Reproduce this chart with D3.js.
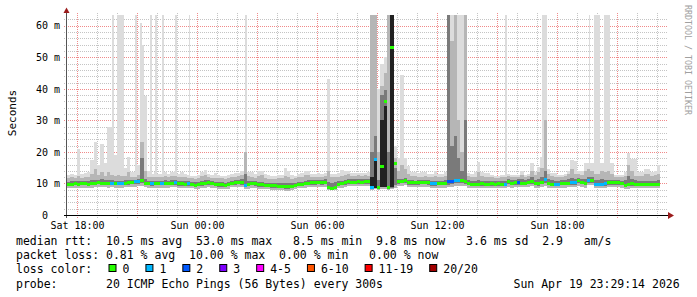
<!DOCTYPE html>
<html><head><meta charset="utf-8">
<script src="https://cdn.jsdelivr.net/npm/d3@7"></script>
<style>
html,body{margin:0;padding:0;background:#fff;}
svg{display:block;}
text{font-family:"DejaVu Sans Mono",monospace;white-space:pre;}
</style></head><body>
<svg id="chart" width="697" height="297"></svg>
<script>
// ---------- data (10-minute steps from Sat 17:30) ----------
const startTime = new Date(2026, 3, 18, 17, 30);
const endTime = new Date(2026, 3, 19, 23, 30);
const stepMinutes = 10;

const median = [
 9.8,9.8,9.9,9.8,9.9,9.9,9.8,9.9,10.0,10.3,10.1,10.0,10.0,10.1,10.0,10.0,9.9,10.1,
 10.3,10.4,10.5,10.6,11.0,10.1,10.0,9.9,10.0,10.0,10.0,10.0,10.0,10.1,10.2,9.9,9.9,9.8,
 9.9,9.7,9.5,9.6,9.9,10.0,10.2,10.0,9.8,9.6,9.6,9.5,9.7,10.1,10.2,10.3,10.2,9.5,
 9.7,10.0,9.9,9.6,9.6,9.5,9.5,9.3,9.2,9.1,9.1,9.0,9.0,9.1,9.4,9.8,9.8,10.0,
 10.1,10.2,10.2,10.3,10.2,10.3,8.6,8.5,8.6,9.8,10.0,10.2,10.5,10.4,10.4,10.5,10.4,10.5,
 10.5,8.8,17.5,8.8,15.5,36.0,8.8,53.0,16.4,10.6,10.7,11.0,10.3,10.3,10.2,10.3,10.4,10.4,
 10.3,9.9,9.9,10.0,10.0,10.0,10.5,10.5,10.9,10.9,10.8,10.6,10.0,9.8,9.8,9.8,9.9,9.8,
 9.8,9.9,9.8,9.9,9.8,9.8,10.5,10.0,10.2,10.2,10.1,10.1,10.4,10.6,10.0,9.9,10.3,11.2,
 10.0,9.8,9.8,9.8,10.0,10.0,10.1,10.2,10.2,10.8,10.3,10.0,10.9,11.0,9.8,9.8,9.8,9.9,
 10.3,10.3,10.3,10.2,10.0,9.5,9.7,9.9,9.8,9.8,9.8,9.8,9.8,9.8,9.8,9.8,null,null
];
const loss = [
 0,0,0,0,0,0,0,0,0,0,0,0,0,1,0,1,1,0,
 0,0,1,1,0,0,0,1,0,0,1,0,0,0,1,0,0,0,
 1,0,0,0,0,0,0,0,0,0,0,0,0,0,0,0,0,1,
 0,0,0,0,0,0,0,0,0,0,0,0,0,0,0,0,0,0,
 0,0,0,0,0,0,0,0,0,0,0,0,0,0,0,0,0,0,
 0,1,1,0,0,0,0,0,0,0,0,0,0,0,0,0,0,0,
 0,1,1,0,0,0,2,2,1,1,0,0,0,0,0,0,0,0,
 0,0,0,0,0,1,0,0,0,2,0,0,0,0,0,0,0,1,
 0,0,1,1,0,0,0,1,1,0,0,0,1,0,1,1,1,1,
 0,0,0,0,0,0,0,0,0,0,0,0,0,0,0,0,0,0
];
const smokeMin = [
 8.7,8.6,8.7,8.6,8.7,8.7,8.6,8.7,8.8,8.9,8.8,8.8,8.7,8.8,8.7,8.6,8.6,8.8,
 8.9,9.0,9.0,9.1,9.2,8.8,8.7,8.6,8.7,8.7,8.7,8.7,8.7,8.8,8.8,8.6,8.6,8.5,
 8.6,8.5,8.3,8.4,8.6,8.7,8.8,8.7,8.5,8.3,8.3,8.2,8.4,8.8,8.9,9.0,8.9,8.3,
 8.4,8.7,8.6,8.3,8.3,8.2,8.2,8.0,7.9,7.8,7.8,7.7,7.7,7.8,8.1,8.5,8.5,8.7,
 8.8,8.9,8.9,9.0,8.9,9.0,8.0,7.9,8.0,8.5,8.7,8.9,9.2,9.1,9.1,9.2,9.1,9.2,
 9.1,8.0,8.1,8.0,8.2,8.3,8.0,8.2,8.7,9.2,9.3,9.5,8.9,8.9,8.8,8.9,9.0,9.0,
 8.9,8.6,8.6,8.7,8.7,8.7,8.9,8.9,9.2,9.2,9.2,9.1,8.7,8.5,8.5,8.5,8.6,8.5,
 8.5,8.6,8.5,8.6,8.5,8.5,9.0,8.7,8.9,8.9,8.8,8.8,9.0,9.1,8.7,8.6,8.9,9.2,
 8.7,8.5,8.5,8.5,8.7,8.7,8.8,8.9,8.9,9.3,8.9,8.7,9.4,9.5,8.5,8.5,8.5,8.6,
 8.9,8.9,8.9,8.8,8.7,8.2,8.4,8.6,8.5,8.5,8.5,8.5,8.5,8.5,8.5,8.5,null,null
];
const smokeLow = [
 9.3,9.3,9.4,9.3,9.4,9.4,9.3,9.4,9.5,9.7,9.5,9.5,9.5,9.5,9.4,9.4,9.4,9.6,
 9.6,9.7,9.8,9.9,10.0,9.5,9.4,9.3,9.4,9.4,9.4,9.4,9.4,9.5,9.5,9.3,9.3,9.2,
 9.3,9.1,9.0,9.1,9.3,9.4,9.6,9.4,9.2,9.0,9.0,8.9,9.1,9.5,9.6,9.7,9.6,9.0,
 9.1,9.4,9.3,9.0,9.0,8.9,8.9,8.7,8.6,8.5,8.5,8.4,8.4,8.5,8.8,9.2,9.2,9.4,
 9.5,9.6,9.6,9.7,9.6,9.7,8.4,8.3,8.4,9.2,9.4,9.6,9.9,9.8,9.8,9.9,9.8,9.9,
 9.8,8.4,8.6,8.4,8.8,8.9,8.4,8.6,9.5,9.9,10.0,10.2,9.6,9.6,9.5,9.6,9.7,9.7,
 9.6,9.3,9.3,9.4,9.4,9.4,9.6,9.7,10.0,10.0,10.0,9.9,9.4,9.2,9.2,9.2,9.3,9.2,
 9.2,9.3,9.2,9.3,9.2,9.2,9.8,9.4,9.6,9.6,9.5,9.5,9.8,9.9,9.4,9.3,9.7,10.2,
 9.4,9.2,9.2,9.2,9.4,9.4,9.5,9.6,9.6,10.1,9.7,9.4,10.2,10.3,9.2,9.2,9.2,9.3,
 9.6,9.6,9.6,9.5,9.4,8.9,9.1,9.3,9.2,9.2,9.2,9.2,9.2,9.2,9.2,9.2,null,null
];
const smokeHigh = [
 10.6,10.7,10.8,10.7,10.8,10.8,10.9,11.0,11.2,11.0,11.3,11.0,11.1,11.0,10.9,10.9,10.8,11.0,
 11.0,11.1,11.2,11.4,18.0,11.5,10.9,10.8,10.9,10.9,10.9,11.0,10.9,11.0,11.2,10.8,10.8,10.7,
 10.7,10.5,10.4,10.5,10.8,11.0,11.0,10.8,10.6,10.4,10.4,10.3,10.6,10.9,11.0,11.1,11.4,13.0,
 10.8,10.9,10.7,10.4,10.4,10.3,10.3,10.2,10.1,10.0,10.0,10.2,10.0,10.0,10.3,10.6,10.6,10.9,
 11.0,11.0,11.0,11.1,11.0,11.4,10.5,10.3,10.5,10.8,10.9,11.2,11.4,11.3,11.3,11.4,11.3,11.4,
 11.3,20.0,25.0,11.0,38.0,39.7,20.0,64,15.0,11.5,11.5,11.8,11.0,11.0,10.9,11.0,11.1,11.1,
 11.0,10.7,10.7,10.8,10.8,11.0,64,22.0,25.0,18.0,14.0,30.0,11.2,10.8,10.8,11.0,10.9,10.8,
 10.8,10.9,10.8,10.9,10.8,10.9,11.4,11.0,11.2,11.3,11.5,11.2,11.5,12.0,11.2,11.5,12.0,14.0,
 11.5,11.0,10.9,10.9,11.0,11.1,11.4,11.8,11.5,11.8,11.3,11.5,12.0,12.0,11.2,11.0,11.3,11.2,
 11.2,11.2,11.0,11.0,10.9,11.0,12.5,11.5,11.0,10.8,10.8,10.9,10.9,10.8,10.8,11.0,null,null
];
const smokeMid = [
 11.7,12.0,11.6,12.5,11.8,12.0,12.2,13.0,14.5,12.6,13.5,12.5,13.5,12.6,12.5,12.8,12.3,12.4,
 13.5,12.2,12.2,12.8,23.0,14.0,12.0,12.0,12.2,12.0,12.0,12.5,12.2,12.3,12.5,12.0,12.2,12.0,
 11.8,11.6,11.5,11.7,12.3,12.8,12.2,11.8,11.8,11.6,11.6,11.5,11.8,12.0,12.0,12.3,12.6,20.0,
 12.5,12.0,11.8,12.4,12.6,11.8,11.5,11.5,11.4,11.6,11.6,12.5,12.2,11.5,11.6,12.0,12.0,12.6,
 12.8,12.0,12.0,12.2,12.0,12.5,14.0,12.0,12.0,12.2,12.5,12.8,13.0,12.5,12.4,12.6,12.5,12.6,
 12.5,64,64,20.0,41.0,45.0,64,64,18.0,14.0,16.0,14.5,13.0,12.3,12.3,12.0,12.2,12.4,
 12.0,12.0,12.5,12.0,12.0,12.3,64,55,64,30,20,64,12.4,12.0,12.2,13.5,12.3,12.2,
 12.2,12.0,11.8,11.8,11.9,12.0,12.5,12.0,12.0,12.2,12.8,12.2,12.5,14.0,12.8,13.5,15.0,30.0,
 13.0,12.4,12.2,12.0,12.2,12.4,13.0,14.5,13.0,13.0,12.8,14.0,14.5,14.0,13.0,13.0,14.0,13.5,
 14.0,13.0,12.2,12.2,12.0,12.5,16.0,14.0,12.5,12.3,12.3,13.0,13.0,12.4,12.6,13.0,null,null
];
const smokeMax = [
 12.7,13.0,12.6,20.8,13.0,13.2,13.5,17.5,23.0,16.0,22.5,16.5,28.0,28.0,19.0,64,64,15.0,
 18.5,13.5,13.5,16.0,54.0,37.6,14.0,13.0,13.5,13.0,13.0,13.5,13.0,13.5,14.0,13.0,13.5,13.0,
 12.8,12.5,12.4,12.8,13.5,14.3,13.0,12.6,13.2,12.6,12.5,12.4,12.8,13.0,13.2,13.4,14.0,20.0,
 13.6,13.5,13.0,13.8,14.0,13.0,12.6,12.5,12.4,12.8,12.8,14.8,14.0,12.6,12.5,13.0,13.2,14.1,
 14.1,13.0,13.0,13.2,13.0,13.3,43.0,13.0,13.0,13.3,14.2,14.0,14.1,13.4,13.3,13.4,13.3,13.4,
 13.5,64,64,40.0,48.0,50.0,64,64,22.0,18.0,44.4,18.0,15.5,13.5,13.5,13.2,13.5,13.5,
 13.0,13.0,14.0,13.0,13.0,13.5,64,64,64,64,64,64,13.2,13.0,13.5,16.9,13.5,13.2,
 13.2,12.6,12.5,12.5,12.6,12.8,13.0,12.6,12.8,12.8,13.8,12.8,13.0,16.4,13.5,15.3,18.4,64,
 14.5,13.2,13.2,12.8,12.8,13.0,14.1,17.5,17.0,14.1,14.1,16.6,16.6,16.6,64,64,16.6,64,
 64,16.6,12.8,12.8,12.8,13.5,19.8,17.6,17.6,13.5,13.5,14.6,14.6,13.5,14.0,16.0,null,null
];
// densest smoke: [step, low ms, high ms]
const blackSmoke = [[91,8.6,12.0],[92,8.6,17.5],[94,9.0,30.0],[95,9.0,34.4],[97,8.8,64]];
// single 5-minute samples with a high max ping: [minutes after start, max ms]
const singleSpikes = [[135,64],[205,64],[220,61],[250,64],[265,64],[285,64],[325,64],[365,64],[535,64],[1315,64],[1425,64],[1565,64]];

const yTicks = [0,10,20,30,40,50,60];
const yTickLabels = ["0","10 m","20 m","30 m","40 m","50 m","60 m"];
const xTickTimes = [new Date(2026,3,18,18,0),new Date(2026,3,19,0,0),new Date(2026,3,19,6,0),new Date(2026,3,19,12,0),new Date(2026,3,19,18,0)];
const xTickLabels = ["Sat 18:00","Sun 00:00","Sun 06:00","Sun 12:00","Sun 18:00"];
const lossClasses = ["0","1","2","3","4-5","6-10","11-19","20/20"];
const lossColors = ["#26ff00","#00b8ff","#0059ff","#7e00ff","#ff00ff","#ff5500","#ff0000","#a10000"];
const legendLines = [
 "median rtt:  10.5 ms avg  53.0 ms max   8.5 ms min  9.8 ms now   3.6 ms sd  2.9   am/s",
 "packet loss: 0.81 % avg  10.00 % max  0.00 % min   0.00 % now"
];
const probeText = "probe:       20 ICMP Echo Pings (56 Bytes) every 300s";
const stampText = "Sun Apr 19 23:29:14 2026";

// ---------- drawing ----------
const svg = d3.select("#chart");
const X0 = 67, X1 = 667, YB = 215, YT = 15;
const x = d3.scaleTime().domain([startTime, endTime]).range([X0, X1]);
const y = d3.scaleLinear().domain([0, 63.4]).range([YB, YT]).clamp(true);

function lossClass(n){ if(n<=3) return n; if(n<=5) return 4; if(n<=10) return 5; if(n<=19) return 6; return 7; }

const steps = median.map((m,i)=>({
  i, m, loss: loss[i],
  x0: Math.round(x(d3.timeMinute.offset(startTime, i*stepMinutes))),
  x1: Math.round(x(d3.timeMinute.offset(startTime, (i+1)*stepMinutes))),
  min: smokeMin[i], low: smokeLow[i], high: smokeHigh[i], mid: smokeMid[i], max: smokeMax[i]
})).filter(d => d.m != null);

// grid
const grid = svg.append("g");
const minorY = d3.range(2, 63, 2).filter(v => v % 10 !== 0);
grid.selectAll(".hmin").data(minorY).join("line")
  .attr("x1", 64).attr("x2", 668)
  .attr("y1", d => Math.round(y(d)) + 0.5).attr("y2", d => Math.round(y(d)) + 0.5)
  .attr("stroke", "#c4c4c4").attr("stroke-dasharray", "1,1");
const hours = d3.timeHour.range(d3.timeMinute.offset(startTime, 1), endTime);
grid.selectAll(".vmin").data(hours.filter(h => h.getHours() % 3 !== 0)).join("line")
  .attr("y1", 13).attr("y2", 218)
  .attr("x1", d => Math.round(x(d)) + 0.5).attr("x2", d => Math.round(x(d)) + 0.5)
  .attr("stroke", "#c4c4c4").attr("stroke-dasharray", "1,1");
grid.selectAll(".vmaj").data(hours.filter(h => h.getHours() % 3 === 0)).join("line")
  .attr("y1", 13).attr("y2", 218)
  .attr("x1", d => Math.round(x(d)) + 0.5).attr("x2", d => Math.round(x(d)) + 0.5)
  .attr("stroke", "#f08a8a").attr("stroke-dasharray", "1,1");
grid.selectAll(".hmaj").data(yTicks.filter(v => v > 0)).join("line")
  .attr("x1", 64).attr("x2", 668)
  .attr("y1", d => Math.round(y(d)) + 0.5).attr("y2", d => Math.round(y(d)) + 0.5)
  .attr("stroke", "#f08a8a").attr("stroke-dasharray", "1,1");

// smoke
const smoke = svg.append("g").attr("shape-rendering", "crispEdges");
function band(data, lo, hi, color){
  smoke.append("g").selectAll("rect").data(data).join("rect")
    .attr("x", d => d.x0).attr("width", d => d.x1 - d.x0)
    .attr("y", d => y(hi(d))).attr("height", d => Math.max(0, y(lo(d)) - y(hi(d))))
    .attr("fill", color);
}
band(steps, d => d.min, d => d.max, "#dcdcdc");
const spikeData = singleSpikes.map(([mn, v]) => ({
  x0: Math.round(x(d3.timeMinute.offset(startTime, mn))),
  x1: Math.max(Math.round(x(d3.timeMinute.offset(startTime, mn + 5))), Math.round(x(d3.timeMinute.offset(startTime, mn))) + 1),
  lo: smokeMin[Math.floor(mn / stepMinutes)], hi: v
}));
band(spikeData, d => d.lo, d => d.hi, "#dcdcdc");
band(steps, d => d.min, d => d.mid, "#b6b6b6");
band(steps, d => d.low, d => d.high, "#7a7a7a");
const blackData = blackSmoke.map(([i, lo, hi]) => ({ x0: steps[i].x0, x1: steps[i].x1, lo, hi }));
band(blackData, d => d.lo, d => d.hi, "#222222");

// median coloured by loss
svg.append("g").attr("shape-rendering", "crispEdges").selectAll("rect").data(steps).join("rect")
  .attr("x", d => d.x0).attr("width", d => d.x1 - d.x0)
  .attr("y", d => Math.round(y(d.m) - 1.5)).attr("height", 3)
  .attr("fill", d => lossColors[lossClass(d.loss)]);

// axes
const yAxis = d3.axisLeft(y).tickValues(yTicks).tickSize(0).tickPadding(7)
  .tickFormat((d, i) => yTickLabels[i].length < 4 ? yTickLabels[i].padEnd(3) : yTickLabels[i]);
const gy = svg.append("g").attr("transform", `translate(${X0},0)`).call(yAxis);
gy.select(".domain").remove();
gy.selectAll("text").attr("font-family", "DejaVu Sans Mono").attr("font-size", 10).attr("fill", "#000");

const xAxis = d3.axisBottom(x).tickValues(xTickTimes).tickSize(0).tickPadding(7)
  .tickFormat((d, i) => xTickLabels[i]);
const gx = svg.append("g").attr("transform", `translate(0,${YB})`).call(xAxis);
gx.select(".domain").remove();
gx.selectAll("text").attr("font-family", "DejaVu Sans Mono").attr("font-size", 10).attr("fill", "#000");

svg.append("line").attr("x1", 66.5).attr("x2", 66.5).attr("y1", 12).attr("y2", 218).attr("stroke", "#555");
svg.append("line").attr("x1", 64).attr("x2", 669).attr("y1", 215.5).attr("y2", 215.5).attr("stroke", "#000");
svg.append("polygon").attr("points", "63.5,13 69.5,13 66.5,7.5").attr("fill", "#9b1c1c");
svg.append("polygon").attr("points", "668,212 668,219 674,215.5").attr("fill", "#9b1c1c");

svg.append("text").attr("transform", "translate(15.5,113) rotate(-90)")
  .attr("text-anchor", "middle").attr("font-size", 11).attr("fill", "#000").text("Seconds");
svg.append("text").attr("transform", "translate(685,5) rotate(90)")
  .attr("font-size", 8.3).attr("fill", "#a0a0a0").text("RRDTOOL / TOBI OETIKER");

// legend
const lg = svg.append("g").attr("font-size", 11.5).attr("fill", "#000");
lg.append("text").attr("x", 16).attr("y", 245).text(legendLines[0]);
lg.append("text").attr("x", 16).attr("y", 259).text(legendLines[1]);
lg.append("text").attr("x", 16).attr("y", 273).text("loss color:");
let lx = 108.5;
lossClasses.forEach((c, i) => {
  lg.append("rect").attr("x", lx + 0.5).attr("y", 264.5).attr("width", 7).attr("height", 7)
    .attr("fill", lossColors[i]).attr("stroke", "#000").attr("stroke-width", 1);
  lg.append("text").attr("x", lx + 14).attr("y", 273).text(c);
  lx += 14 + 6.92 * c.length + 16;
});
lg.append("text").attr("x", 16).attr("y", 287.5).text(probeText);
lg.append("text").attr("x", 513.5).attr("y", 287.5).text(stampText);
</script>
</body></html>
